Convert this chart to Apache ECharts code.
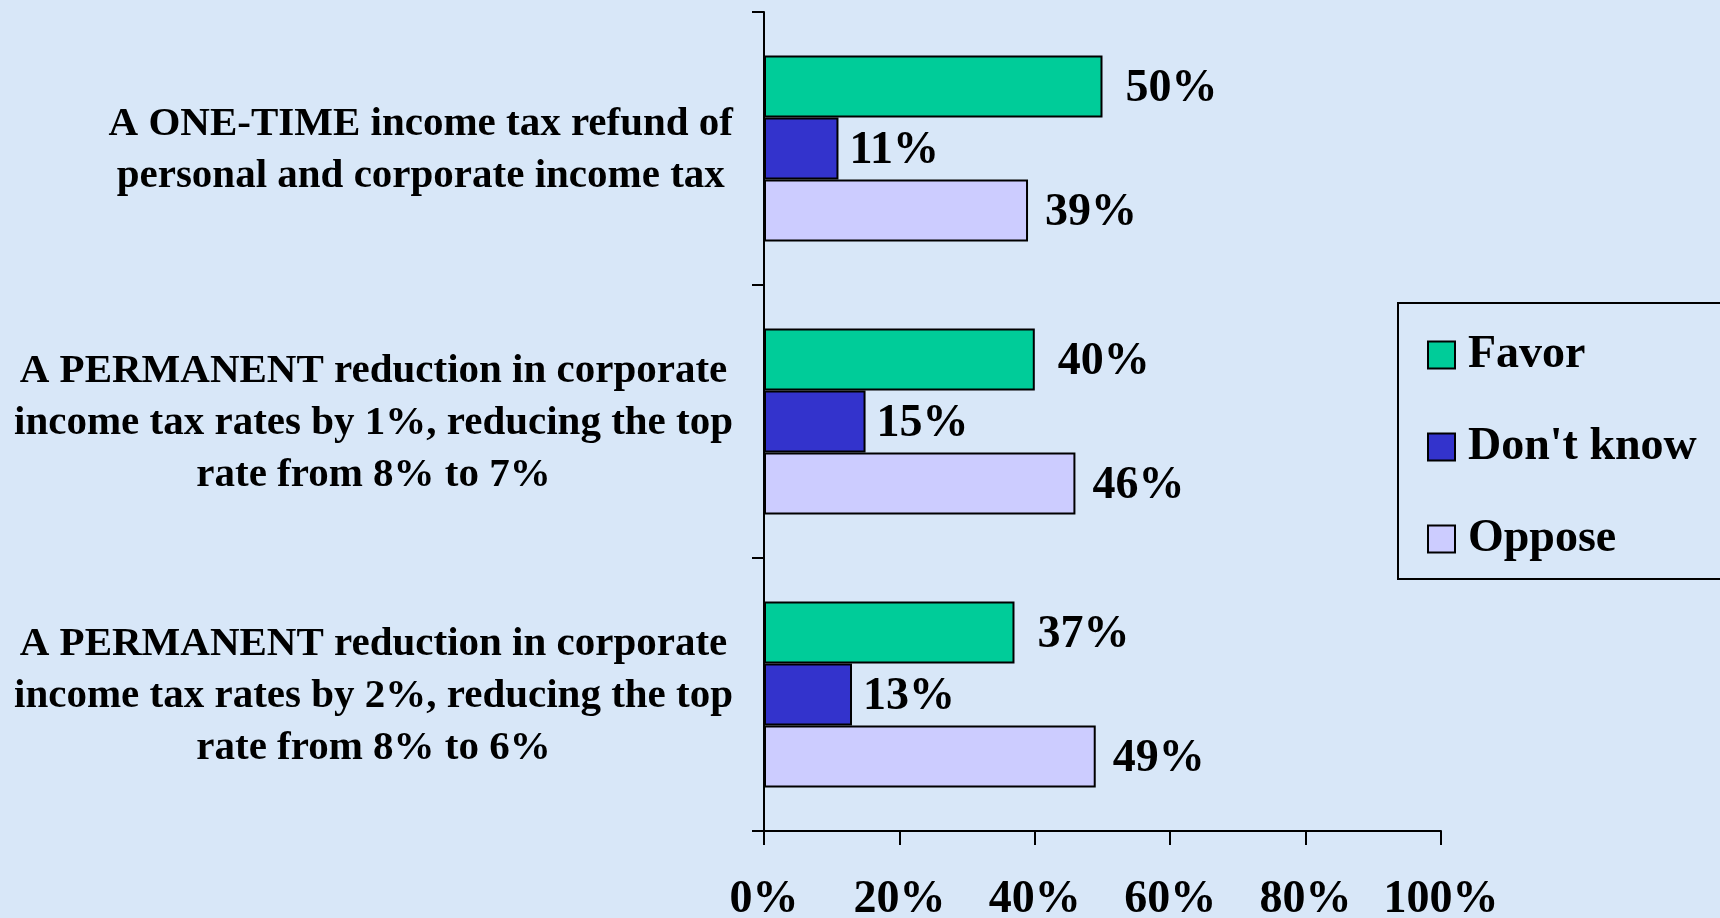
<!DOCTYPE html>
<html>
<head>
<meta charset="utf-8">
<script src="https://cdn.jsdelivr.net/npm/echarts@6/dist/echarts.min.js"></script>
<style>
  html, body {
    margin: 0;
    padding: 0;
    width: 1720px;
    height: 918px;
    overflow: hidden;
    background: #d8e7f8;
  }
  #chart {
    width: 1720px;
    height: 918px;
  }
</style>
</head>
<body>
<div id="chart"></div>
<script>
const categories = [
  'A ONE-TIME income tax refund of\npersonal and corporate income tax',
  'A PERMANENT reduction in corporate\nincome tax rates by 1%, reducing the top\nrate from 8% to 7%',
  'A PERMANENT reduction in corporate\nincome tax rates by 2%, reducing the top\nrate from 8% to 6%'
];
const favor = [50, 40, 37];
const dontKnow = [11, 15, 13];
const oppose = [39, 46, 49];
const seriesNames = ['Favor', "Don't know", 'Oppose'];

const font = 'Liberation Serif, Times New Roman, serif';
const chart = echarts.init(document.getElementById('chart'));

const barSeries = (name, data, color, dist) => ({
  name,
  type: 'bar',
  data,
  barWidth: 62,
  barGap: '0%',
  itemStyle: { color, borderColor: '#000', borderWidth: 2 },
  label: {
    show: true,
    position: 'right',
    distance: dist,
    offset: [0, 3],
    formatter: '{c}%',
    color: '#000',
    fontFamily: font,
    fontWeight: 'bold',
    fontSize: 46
  }
});

chart.setOption({
  backgroundColor: 'transparent',
  animation: false,
  grid: {
    left: 764, right: 279, top: 12, bottom: 87,
    containLabel: false,
    outerBoundsMode: 'none'
  },
  legend: {
    orient: 'vertical',
    left: 1398,
    top: 303,
    data: seriesNames,
    icon: 'rect',
    itemWidth: 27,
    itemHeight: 27,
    itemGap: 44,
    padding: [28, 40, 16, 29],
    borderColor: '#000',
    borderWidth: 2,
    textStyle: {
      color: '#000',
      fontFamily: font,
      fontWeight: 'bold',
      fontSize: 46,
      lineHeight: 48,
      padding: [0, 0, 0, 8]
    }
  },
  xAxis: {
    type: 'value',
    min: 0,
    max: 100,
    interval: 20,
    axisLine: { show: true, lineStyle: { color: '#000', width: 2 } },
    axisTick: { show: true, length: 14, lineStyle: { color: '#000', width: 2 } },
    splitLine: { show: false },
    axisLabel: {
      formatter: '{value}%',
      margin: 46,
      color: '#000',
      fontFamily: font,
      fontWeight: 'bold',
      fontSize: 46
    }
  },
  yAxis: {
    type: 'category',
    inverse: true,
    data: categories,
    axisLine: { show: true, lineStyle: { color: '#000', width: 2 } },
    axisTick: { show: true, length: 12, lineStyle: { color: '#000', width: 2 } },
    axisLabel: {
      margin: 31,
      align: 'right',
      padding: [3, 0, 0, 0],
      formatter: (v) => v.split('\n').map((l) => `{c|${l}}`).join('\n'),
      rich: {
        c: {
          align: 'center',
          color: '#000',
          fontFamily: font,
          fontWeight: 'bold',
          fontSize: 41,
          lineHeight: 52
        }
      }
    }
  },
  series: [
    barSeries(seriesNames[0], favor, '#00cc99', 23),
    barSeries(seriesNames[1], dontKnow, '#3333cc', 11),
    barSeries(seriesNames[2], oppose, '#ccccff', 17)
  ]
});
</script>
</body>
</html>
